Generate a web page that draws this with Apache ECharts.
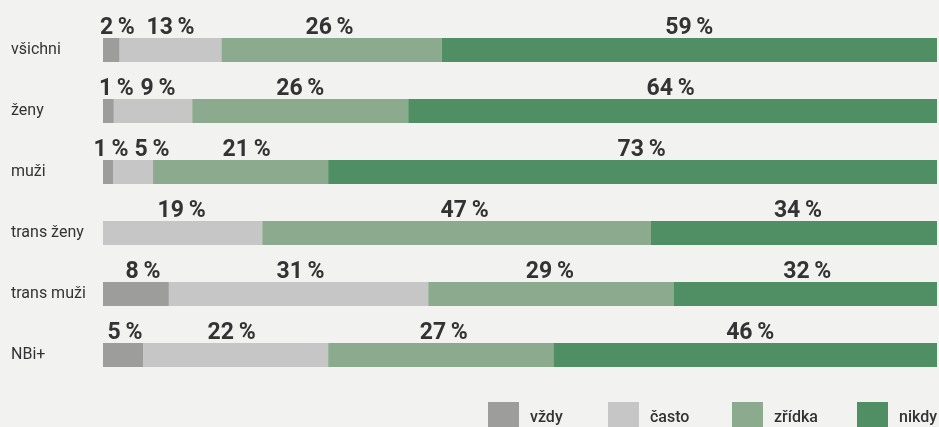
<!DOCTYPE html>
<html>
<head>
<meta charset="utf-8">
<script src="https://cdn.jsdelivr.net/npm/echarts@6/dist/echarts.min.js"></script>
<style>
html,body{margin:0;padding:0;background:#f2f3f0;}
#chart{width:939px;height:427px;}
</style>
</head>
<body>
<div id="chart"></div>
<script>
const categories = ['všichni', 'ženy', 'muži', 'trans ženy', 'trans muži', 'NBi+'];
const seriesNames = ['vždy', 'často', 'zřídka', 'nikdy'];
// bar lengths (share in %)
const vzdy   = [2.0, 1.3, 1.2, 0, 7.9, 4.8];
const casto  = [12.2, 9.4, 4.8, 19.1, 31.1, 22.2];
const zridka = [26.4, 25.9, 21.0, 46.6, 29.4, 27.0];
const nikdy  = [59.4, 63.4, 73.0, 34.3, 31.6, 46.0];
// printed value labels
const vzdyLabels   = [2, 1, 1, null, 8, 5];
const castoLabels  = [13, 9, 5, 19, 31, 22];
const zridkaLabels = [26, 26, 21, 47, 29, 27];
const nikdyLabels  = [59, 64, 73, 34, 32, 46];

const colors = ['#9d9d9b', '#c6c6c6', '#8caa8d', '#508e63'];
const values = [vzdy, casto, zridka, nikdy];
const labels = [vzdyLabels, castoLabels, zridkaLabels, nikdyLabels];
// horizontal nudges of value labels to avoid overlaps (px)
const shifts = [
  [6, 8, 3, 0, 7, 2],
  [0, 5, 19, -1, 2, -4],
  [-2, 0, 6, 8, -1, 3],
  [0, -2, 9, 4, 2, 5]
];
const legendLeft = [488, 608, 732, 857];

const chart = echarts.init(document.getElementById('chart'));
const series = values.map((arr, si) => ({
  name: seriesNames[si],
  type: 'bar',
  stack: 'total',
  barWidth: 24,
  itemStyle: { color: colors[si] },
  label: {
    show: true,
    position: 'top',
    distance: -2,
    fontFamily: 'Roboto',
    fontWeight: 'bold',
    fontSize: 23,
    color: '#333333',
    formatter: p => labels[si][p.dataIndex] == null ? '' : labels[si][p.dataIndex] + '\u2009%'
  },
  data: arr.map((v, i) => ({ value: v, label: { offset: [shifts[si][i], 0] } }))
}));

const legends = seriesNames.map((n, i) => ({
  data: [n],
  left: legendLeft[i],
  top: 402,
  icon: 'rect',
  itemWidth: 31,
  itemHeight: 31,
  padding: 0,
  selectedMode: false,
  textStyle: { fontFamily: 'Roboto', fontWeight: 500, fontSize: 16, color: '#333333', padding: [3, 0, 0, 6] }
}));

chart.setOption({
  backgroundColor: '#f2f3f0',
  animation: false,
  legend: legends,
  grid: { left: 103, right: 2, top: 19.5, height: 366, containLabel: false },
  xAxis: { type: 'value', min: 0, max: 100, show: false },
  yAxis: {
    type: 'category',
    data: categories,
    inverse: true,
    axisLine: { show: false },
    axisTick: { show: false },
    axisLabel: {
      align: 'left',
      margin: 92,
      fontFamily: 'Roboto',
      fontSize: 16,
      color: '#333333'
    }
  },
  series: series
});
</script>
</body>
</html>
